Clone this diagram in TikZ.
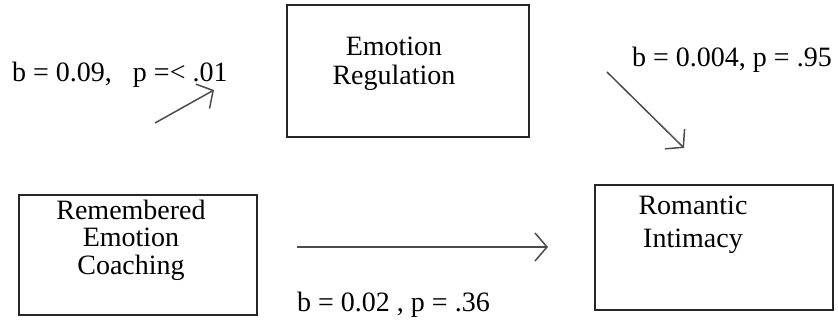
\documentclass[tikz,border=0pt]{standalone}
\usepackage{fontspec}
\setmainfont{Liberation Serif}
\usetikzlibrary{arrows.meta}
\begin{document}
\begin{tikzpicture}[x=1pt,y=1pt,
  boxstyle/.style={draw=black!85,line width=1.6pt,rectangle,inner sep=0pt},
  boxtext/.style={align=center,inner sep=0pt,font=\fontsize{28}{28.5}\selectfont},
  lbl/.style={anchor=base west,inner sep=0pt,font=\fontsize{28}{30}\selectfont},
  pathline/.style={draw=black!70,line width=1.5pt,-{Straight Barb[length=12pt,width=28pt,line width=1.5pt]}}]
\useasboundingbox (0,0) rectangle (838,323);
% boxes
\node[boxstyle,minimum width=242pt,minimum height=132pt] (er) at (408,252) {};
\node[boxstyle,minimum width=238pt,minimum height=120pt] (rec) at (138,68) {};
\node[boxstyle,minimum width=238pt,minimum height=125pt] (ri) at (714,75.5) {};
% box texts
\node[boxtext,font=\fontsize{28}{29}\selectfont] (ert) at (394,259) {Emotion\\Regulation};
\node[boxtext,font=\fontsize{28}{27.5}\selectfont] (rect) at (131,83) {Remembered\\Emotion\\Coaching};
\node[boxtext,font=\fontsize{28}{33}\selectfont] (rit) at (693,98) {Romantic\\Intimacy};
% labels
\node[lbl] (l1) at (12,241) {b = 0.09,\ \ \ p =<\ .01};
\node[lbl] (l2) at (632,256) {b = 0.004, p = .95};
\node[lbl] (l3) at (297,11) {b = 0.02 , p = .36};
% arrow end points
\coordinate (a1s) at (155,200);
\coordinate (a1e) at (214,233);
\coordinate (a2s) at (607,251);
\coordinate (a2e) at (684,175);
\coordinate (a3s) at (297,76);
\coordinate (a3e) at (548,76);
\draw[pathline] (a1s) -- (a1e);
\draw[pathline] (a2s) -- (a2e);
\draw[pathline] (a3s) -- (a3e);
\end{tikzpicture}
\end{document}
